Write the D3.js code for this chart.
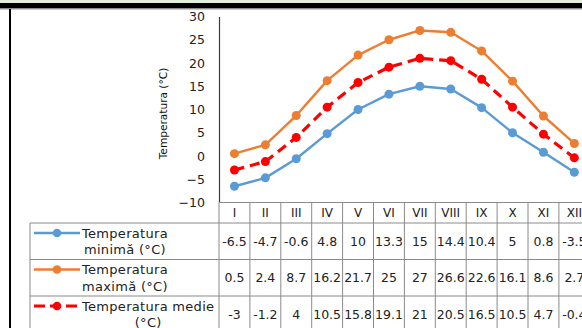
<!DOCTYPE html>
<html>
<head>
<meta charset="utf-8">
<script src="https://cdn.jsdelivr.net/npm/d3@7"></script>
<style>
  html, body { margin: 0; padding: 0; background: #fff; }
  svg { display: block; font-family: "DejaVu Sans", sans-serif; }
</style>
</head>
<body>
<svg id="chart" width="582" height="328"></svg>
<script>
// Monthly temperatures (°C)
const months = ["I", "II", "III", "IV", "V", "VI", "VII", "VIII", "IX", "X", "XI", "XII"];
const tempMin = [-6.5, -4.7, -0.6, 4.8, 10, 13.3, 15, 14.4, 10.4, 5, 0.8, -3.5];
const tempMax = [0.5, 2.4, 8.7, 16.2, 21.7, 25, 27, 26.6, 22.6, 16.1, 8.6, 2.7];
const tempMed = [-3, -1.2, 4, 10.5, 15.8, 19.1, 21, 20.5, 16.5, 10.5, 4.7, -0.4];
const seriesNames = [["Temperatura", "minimă (°C)"], ["Temperatura", "maximă (°C)"], ["Temperatura medie", "(°C)"]];
const yTicks = [-10, -5, 0, 5, 10, 15, 20, 25, 30];
const yTitle = "Temperatura (°C)";

const series = [
  { values: tempMin, names: seriesNames[0], color: "#5B9BD5", width: 2.4, dash: null },
  { values: tempMax, names: seriesNames[1], color: "#ED7D31", width: 2.4, dash: null },
  { values: tempMed, names: seriesNames[2], color: "#FF0000", width: 3.2, dash: "10,6" }
];

const svg = d3.select("#chart");
const W = 582, H = 328;
const gridColor = "#8a8a8a";

// Frame decoration across the top and on the left
svg.append("rect").attr("x", 0).attr("y", 0).attr("width", W).attr("height", 3).attr("fill", "#E4EFDB");
svg.append("rect").attr("x", 0).attr("y", 3).attr("width", W).attr("height", 5.5).attr("fill", "#000");
svg.append("line").attr("x1", 0).attr("x2", W).attr("y1", 9).attr("y2", 9).attr("stroke", "#9a9a9a").attr("stroke-width", 1);
svg.append("rect").attr("x", 9).attr("y", 9).attr("width", 2).attr("height", H - 9).attr("fill", "#000");

// Scales
const plotLeft = 219, bandW = 30.9;
const x = d3.scaleBand().domain(months).range([plotLeft, plotLeft + bandW * months.length]).padding(0);
const y = d3.scaleLinear().domain([-10, 30]).range([202.5, 16.5]);

// Y axis
const yAxis = d3.axisLeft(y).tickValues(yTicks).tickSize(0).tickPadding(14).tickFormat(d3.format("d"));
const gy = svg.append("g").attr("transform", `translate(${plotLeft},0)`).call(yAxis);
gy.select(".domain").attr("stroke", "#3a3a3a").attr("stroke-width", 1.2);
gy.selectAll("text").attr("font-size", 12.5).attr("fill", "#222").attr("font-family", "DejaVu Sans, sans-serif");

svg.append("text")
  .attr("transform", `translate(167,113.5) rotate(-90)`)
  .attr("text-anchor", "middle")
  .attr("font-size", 10.6)
  .attr("fill", "#111")
  .text(yTitle);

// Data table grid
const headerTop = y(-10), rowTops = [223, 259.5, 296], rowH = 36.5;
svg.append("line").attr("x1", plotLeft).attr("x2", W).attr("y1", headerTop).attr("y2", headerTop)
  .attr("stroke", gridColor).attr("stroke-width", 1);
rowTops.forEach(t => {
  svg.append("line").attr("x1", 30).attr("x2", W).attr("y1", t).attr("y2", t)
    .attr("stroke", gridColor).attr("stroke-width", 1);
});
svg.append("line").attr("x1", 30).attr("x2", 30).attr("y1", rowTops[0]).attr("y2", H)
  .attr("stroke", gridColor).attr("stroke-width", 1);
d3.range(months.length + 1).forEach(i => {
  const xx = plotLeft + i * bandW;
  svg.append("line").attr("x1", xx).attr("x2", xx).attr("y1", headerTop).attr("y2", H)
    .attr("stroke", gridColor).attr("stroke-width", 1);
});

// Month header
svg.selectAll("text.month").data(months).join("text")
  .attr("class", "month")
  .attr("x", d => x(d) + x.bandwidth() / 2)
  .attr("y", (headerTop + rowTops[0]) / 2 + 4.5)
  .attr("text-anchor", "middle")
  .attr("font-size", 12)
  .attr("fill", "#222")
  .text(d => d);

// Series lines and markers
const line = d3.line().x((d, i) => x(months[i]) + x.bandwidth() / 2).y(d => y(d));
series.forEach(s => {
  svg.append("path").datum(s.values)
    .attr("d", line)
    .attr("fill", "none")
    .attr("stroke", s.color)
    .attr("stroke-width", s.width)
    .attr("stroke-linejoin", "round")
    .attr("stroke-dasharray", s.dash);
  svg.append("g").selectAll("circle").data(s.values).join("circle")
    .attr("cx", (d, i) => x(months[i]) + x.bandwidth() / 2)
    .attr("cy", d => y(d))
    .attr("r", 4.5)
    .attr("fill", s.color);
});

// Table rows: legend key, series name, monthly values
series.forEach((s, r) => {
  const top = rowTops[r];
  const keyY = top + 10;
  const key = svg.append("g");
  key.append("line").attr("x1", 34).attr("x2", 80).attr("y1", keyY).attr("y2", keyY)
    .attr("stroke", s.color).attr("stroke-width", s.width).attr("stroke-dasharray", s.dash ? "11,5" : null);
  key.append("circle").attr("cx", 57).attr("cy", keyY).attr("r", 4.3).attr("fill", s.color);

  const t1 = svg.append("text").attr("x", 82).attr("y", keyY + 4.5)
    .attr("font-size", 13).attr("fill", "#222").attr("letter-spacing", 0.3).text(s.names[0]);
  const w1 = t1.node().getComputedTextLength();
  svg.append("text").attr("x", 82 + w1 / 2).attr("y", keyY + 21)
    .attr("text-anchor", "middle").attr("font-size", 13).attr("fill", "#222").attr("letter-spacing", 0.3)
    .text(s.names[1]);

  svg.append("g").selectAll("text").data(s.values).join("text")
    .attr("x", (d, i) => x(months[i]) + x.bandwidth() / 2)
    .attr("y", top + rowH / 2 + 4.5)
    .attr("text-anchor", "middle")
    .attr("font-size", 12.5)
    .attr("fill", "#222")
    .text(d => d);
});
</script>
</body>
</html>
